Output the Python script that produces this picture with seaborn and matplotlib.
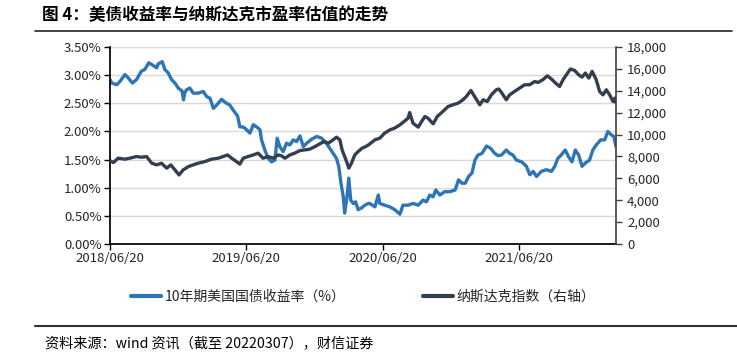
import pandas as pd
import matplotlib.pyplot as plt
import matplotlib.dates as mdates
from matplotlib.lines import Line2D
from matplotlib.ticker import FuncFormatter, MultipleLocator
import seaborn as sns

# 10年期美债收益率 (%)
yield_dates = [
    '2018-06-20', '2018-06-25', '2018-07-08', '2018-07-17', '2018-07-30', '2018-08-08',
    '2018-08-19', '2018-08-30', '2018-09-12', '2018-09-21', '2018-10-02', '2018-10-14',
    '2018-10-23', '2018-10-27', '2018-11-07', '2018-11-14', '2018-11-23', '2018-12-02',
    '2018-12-11', '2018-12-20', '2018-12-30', '2019-01-03', '2019-01-06', '2019-01-11',
    '2019-01-20', '2019-01-29', '2019-02-11', '2019-02-25', '2019-03-06', '2019-03-15',
    '2019-03-24', '2019-04-02', '2019-04-15', '2019-04-26', '2019-05-07', '2019-05-16',
    '2019-05-25', '2019-05-28', '2019-06-03', '2019-06-12', '2019-06-21', '2019-06-30',
    '2019-07-09', '2019-07-18', '2019-07-27', '2019-07-31', '2019-08-09', '2019-08-18',
    '2019-08-27', '2019-09-05', '2019-09-11', '2019-09-18', '2019-09-27', '2019-10-06',
    '2019-10-15', '2019-10-24', '2019-11-02', '2019-11-11', '2019-11-20', '2019-11-29',
    '2019-12-12', '2019-12-26', '2020-01-08', '2020-01-21', '2020-01-30', '2020-02-08',
    '2020-02-17', '2020-02-23', '2020-02-29', '2020-03-06', '2020-03-10', '2020-03-16',
    '2020-03-21', '2020-03-26', '2020-04-02', '2020-04-08', '2020-04-15', '2020-04-24',
    '2020-05-03', '2020-05-12', '2020-05-16', '2020-05-30', '2020-06-08', '2020-06-12',
    '2020-06-25', '2020-07-09', '2020-07-22', '2020-08-05', '2020-08-13', '2020-08-27',
    '2020-09-09', '2020-09-23', '2020-10-06', '2020-10-15', '2020-10-24', '2020-11-02',
    '2020-11-09', '2020-11-20', '2020-12-03', '2020-12-17', '2020-12-31', '2021-01-09',
    '2021-01-18', '2021-01-27', '2021-02-05', '2021-02-14', '2021-02-22', '2021-03-02',
    '2021-03-13', '2021-03-25', '2021-04-05', '2021-04-16', '2021-04-25', '2021-05-04',
    '2021-05-17', '2021-05-26', '2021-06-04', '2021-06-13', '2021-06-27', '2021-07-10',
    '2021-07-19', '2021-07-28', '2021-08-06', '2021-08-19', '2021-09-01', '2021-09-15',
    '2021-09-24', '2021-10-02', '2021-10-11', '2021-10-22', '2021-10-31', '2021-11-09',
    '2021-11-18', '2021-11-27', '2021-12-06', '2021-12-15', '2021-12-26', '2022-01-04',
    '2022-01-13', '2022-01-25', '2022-02-05', '2022-02-13', '2022-02-22', '2022-03-01',
    '2022-03-07',
]
yield_vals = [
    2.92, 2.86, 2.83, 2.89, 3.01, 2.95,
    2.86, 2.92, 3.07, 3.10, 3.22, 3.17,
    3.13, 3.20, 3.24, 3.10, 3.04, 2.92,
    2.86, 2.77, 2.72, 2.56, 2.68, 2.74,
    2.77, 2.68, 2.68, 2.71, 2.62, 2.59,
    2.41, 2.47, 2.57, 2.51, 2.47, 2.38,
    2.30, 2.27, 2.08, 2.08, 2.03, 1.97,
    2.12, 2.08, 2.03, 1.85, 1.67, 1.52,
    1.46, 1.49, 1.88, 1.73, 1.64, 1.79,
    1.76, 1.85, 1.82, 1.92, 1.73, 1.79,
    1.86, 1.91, 1.88, 1.79, 1.70, 1.61,
    1.52, 1.38, 1.08, 0.84, 0.55, 0.84,
    1.17, 0.78, 0.72, 0.75, 0.61, 0.64,
    0.69, 0.72, 0.72, 0.66, 0.87, 0.72,
    0.69, 0.66, 0.61, 0.53, 0.69, 0.69,
    0.72, 0.69, 0.78, 0.75, 0.87, 0.84,
    0.96, 0.87, 0.93, 0.93, 0.96, 1.14,
    1.08, 1.08, 1.20, 1.26, 1.49, 1.58,
    1.61, 1.74, 1.70, 1.61, 1.57, 1.58,
    1.67, 1.61, 1.58, 1.49, 1.46, 1.38,
    1.23, 1.29, 1.20, 1.29, 1.32, 1.29,
    1.38, 1.52, 1.58, 1.67, 1.55, 1.46,
    1.67, 1.58, 1.38, 1.44, 1.49, 1.67,
    1.76, 1.85, 1.85, 2.00, 1.94, 1.91,
    1.73,
]

# 纳斯达克指数（右轴）
ndx_dates = [
    '2018-06-20', '2018-06-29', '2018-07-12', '2018-07-30', '2018-08-12', '2018-08-30',
    '2018-09-13', '2018-09-26', '2018-10-10', '2018-10-23', '2018-11-05', '2018-11-19',
    '2018-11-30', '2018-12-11', '2018-12-22', '2019-01-02', '2019-01-16', '2019-01-29',
    '2019-02-11', '2019-03-01', '2019-03-19', '2019-04-06', '2019-04-19', '2019-05-01',
    '2019-05-12', '2019-05-25', '2019-06-03', '2019-06-12', '2019-06-25', '2019-07-09',
    '2019-07-22', '2019-08-04', '2019-08-18', '2019-08-31', '2019-09-14', '2019-09-23',
    '2019-10-02', '2019-10-15', '2019-10-28', '2019-11-11', '2019-11-24', '2019-12-07',
    '2019-12-21', '2020-01-03', '2020-01-15', '2020-01-26', '2020-02-08', '2020-02-17',
    '2020-02-26', '2020-03-03', '2020-03-15', '2020-03-21', '2020-03-28', '2020-04-06',
    '2020-04-15', '2020-04-26', '2020-05-05', '2020-05-13', '2020-05-30', '2020-06-12',
    '2020-06-25', '2020-07-09', '2020-07-22', '2020-08-05', '2020-08-16', '2020-08-27',
    '2020-08-31', '2020-09-09', '2020-09-23', '2020-10-02', '2020-10-11', '2020-10-19',
    '2020-11-02', '2020-11-13', '2020-11-28', '2020-12-12', '2020-12-25', '2021-01-08',
    '2021-01-21', '2021-01-30', '2021-02-11', '2021-02-21', '2021-03-07', '2021-03-16',
    '2021-03-27', '2021-04-07', '2021-04-20', '2021-04-27', '2021-05-04', '2021-05-17',
    '2021-05-26', '2021-06-08', '2021-06-22', '2021-07-05', '2021-07-19', '2021-08-01',
    '2021-08-10', '2021-08-23', '2021-09-04', '2021-09-15', '2021-09-26', '2021-10-07',
    '2021-10-16', '2021-10-25', '2021-11-05', '2021-11-16', '2021-11-27', '2021-12-06',
    '2021-12-15', '2021-12-24', '2022-01-02', '2022-01-13', '2022-01-22', '2022-01-31',
    '2022-02-09', '2022-02-18', '2022-02-27', '2022-03-04', '2022-03-07',
]
ndx_vals = [
    7620, 7440, 7840, 7750, 7840, 7990,
    7930, 7990, 7380, 7230, 7380, 6930,
    7230, 6770, 6310, 6770, 7070, 7230,
    7380, 7530, 7750, 7840, 7990, 8140,
    7840, 7530, 7300, 7840, 7990, 8140,
    8300, 7840, 7990, 7840, 8140, 8050,
    7840, 8140, 8300, 8540, 8600, 8660,
    8900, 9150, 9360, 9210, 9520, 9760,
    9520, 8600, 7530, 6930, 7380, 8140,
    8450, 8760, 8900, 9060, 9520, 9670,
    10130, 10430, 10590, 10890, 11190, 11500,
    12010, 11040, 10680, 11190, 11650, 11500,
    10980, 11650, 12110, 12560, 12720, 12870,
    13180, 13480, 14030, 13480, 12720, 13180,
    13020, 13630, 14090, 14160, 13850, 13180,
    13630, 13940, 14250, 14550, 14550, 14850,
    14760, 15010, 15370, 15070, 14700, 14390,
    15010, 15460, 15990, 15860, 15460, 15250,
    15620, 15160, 15770, 15010, 13940, 13630,
    14090, 13630, 13020, 13330, 12900,
]

x_ticks = ['2018-06-20', '2019-06-20', '2020-06-20', '2021-06-20']

yield_df = pd.DataFrame({'date': pd.to_datetime(yield_dates), 'val': yield_vals})
ndx_df = pd.DataFrame({'date': pd.to_datetime(ndx_dates), 'val': ndx_vals})

sns.set_theme(style="white")
plt.rcParams['font.family'] = ['Noto Sans CJK SC', 'DejaVu Sans']

blue = '#2e75b6'
navy = '#333f50'

fig = plt.figure(figsize=(7.37, 3.61), dpi=100)
ax = fig.add_axes([110 / 737, 1 - 244 / 361, 506 / 737, 197 / 361])
ax2 = ax.twinx()

sns.lineplot(data=yield_df, x='date', y='val', ax=ax, color=blue, linewidth=2.4,
             label='10年期美国国债收益率（%）', legend=False)
sns.lineplot(data=ndx_df, x='date', y='val', ax=ax2, color=navy, linewidth=2.4,
             label='纳斯达克指数（右轴）', legend=False)

ax.set_xlim(pd.Timestamp('2018-06-20'), pd.Timestamp('2022-03-07'))
ax.set_ylim(0, 3.5)
ax2.set_ylim(0, 18000)
ax.yaxis.set_major_locator(MultipleLocator(0.5))
ax2.yaxis.set_major_locator(MultipleLocator(2000))
ax.yaxis.set_major_formatter(FuncFormatter(lambda v, p: f'{v:.2f}%'))
ax2.yaxis.set_major_formatter(FuncFormatter(lambda v, p: f'{v:,.0f}'))
ax.set_xticks(pd.to_datetime(x_ticks))
ax.xaxis.set_major_formatter(mdates.DateFormatter('%Y/%m/%d'))

ax.set_xlabel('')
ax.set_ylabel('')
ax2.set_ylabel('')
ax.yaxis.grid(True, color='#d9d9d9', linewidth=1)
ax.set_axisbelow(True)

for a in (ax, ax2):
    a.spines['top'].set_visible(False)
ax.spines['right'].set_visible(False)
ax.spines['left'].set_color('black')
ax.spines['bottom'].set_color('black')
ax2.spines['left'].set_visible(False)
ax2.spines['bottom'].set_visible(False)
ax2.spines['right'].set_color('#404040')
ax2.spines['right'].set_linewidth(1.2)

ax.tick_params(axis='both', direction='out', length=4, width=1, color='black',
               labelsize=9.5, labelcolor='#262626', pad=2, left=True, bottom=True)
ax2.tick_params(axis='y', direction='out', length=4, width=1, color='#404040',
                labelsize=9.5, labelcolor='#262626', pad=4, right=True)

# 图例
handles = [Line2D([], [], color=blue, linewidth=3), Line2D([], [], color=navy, linewidth=3)]
labels = ['10年期美国国债收益率（%）', '纳斯达克指数（右轴）']
fig.legend(handles, labels, loc='center', bbox_to_anchor=(0.4925, 1 - 297 / 361), ncol=2,
           frameon=False, fontsize=10, handlelength=2.2, handletextpad=0.2, columnspacing=5.6)

# 标题与来源
fig.text(42 / 737, 1 - 15 / 361, '图 4：美债收益率与纳斯达克市盈率估值的走势', fontsize=12,
         fontweight='bold', va='center', ha='left', color='black')
fig.add_artist(Line2D([35 / 737, 732 / 737], [1 - 31 / 361] * 2, color='#222222', linewidth=1.2))
fig.add_artist(Line2D([35 / 737, 737 / 737], [1 - 326 / 361] * 2, color='#333333', linewidth=1.5))
fig.text(45 / 737, 1 - 344 / 361, '资料来源：wind 资讯（截至 20220307），财信证券', fontsize=10.2,
         style='italic', va='center', ha='left', color='black')

fig.savefig('out.png', dpi=100)
